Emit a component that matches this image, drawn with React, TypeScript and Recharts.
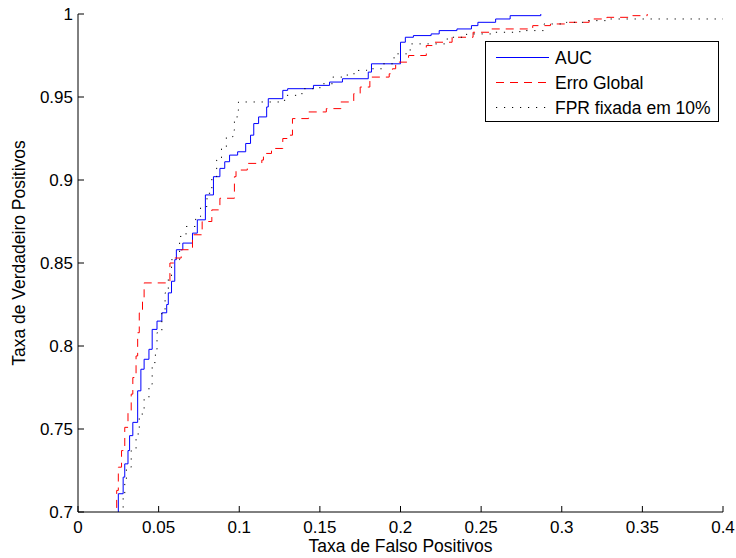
import React from "react";
import {
  LineChart,
  Line,
  XAxis,
  YAxis,
  Legend,
} from "recharts";

const FONT = '"Liberation Sans", Arial, Helvetica, sans-serif';

const xTicks = [0, 0.05, 0.1, 0.15, 0.2, 0.25, 0.3, 0.35, 0.4];
const yTicks = [0.7, 0.75, 0.8, 0.85, 0.9, 0.95, 1];

// AUC
const aucFpr = [
  0.024, 0.025, 0.028, 0.029, 0.031, 0.032, 0.034, 0.037, 0.039, 0.041, 0.044,
  0.046, 0.049, 0.052, 0.055, 0.056, 0.058, 0.06, 0.061, 0.065, 0.071, 0.074,
  0.079, 0.084, 0.088, 0.091, 0.094, 0.099, 0.104, 0.107, 0.109, 0.112, 0.117,
  0.118, 0.127, 0.13, 0.146, 0.156, 0.164, 0.18, 0.182, 0.2, 0.203, 0.208,
  0.219, 0.224, 0.235, 0.244, 0.248, 0.259, 0.268, 0.287,
];
const aucTpr = [
  0.695, 0.711, 0.721, 0.729, 0.737, 0.746, 0.754, 0.773, 0.786, 0.792, 0.798,
  0.81, 0.815, 0.82, 0.825, 0.832, 0.839, 0.852, 0.858, 0.862, 0.868, 0.876,
  0.891, 0.902, 0.907, 0.911, 0.915, 0.917, 0.922, 0.927, 0.934, 0.938, 0.944,
  0.949, 0.954, 0.955, 0.957, 0.959, 0.961, 0.965, 0.97, 0.983, 0.986, 0.987,
  0.988, 0.99, 0.991, 0.993, 0.995, 0.997, 0.999, 1.0,
];

// Erro Global
const erroFpr = [
  0.023, 0.024, 0.025, 0.027, 0.029, 0.031, 0.033, 0.034, 0.036, 0.037, 0.038,
  0.04, 0.041, 0.057, 0.06, 0.064, 0.071, 0.077, 0.083, 0.088, 0.097, 0.098,
  0.105, 0.114, 0.115, 0.12, 0.127, 0.13, 0.133, 0.143, 0.154, 0.163, 0.171,
  0.175, 0.181, 0.193, 0.195, 0.197, 0.205, 0.216, 0.221, 0.232, 0.245, 0.256,
  0.282, 0.293, 0.302, 0.317, 0.328, 0.344, 0.353,
];
const erroTpr = [
  0.695, 0.713, 0.727, 0.737, 0.751, 0.761, 0.771, 0.781, 0.794, 0.808, 0.82,
  0.828, 0.838, 0.85, 0.853, 0.858, 0.867, 0.875, 0.882, 0.889, 0.902, 0.906,
  0.91, 0.912, 0.916, 0.919, 0.925, 0.927, 0.937, 0.941, 0.943, 0.947, 0.952,
  0.956, 0.962, 0.964, 0.967, 0.971, 0.975, 0.981, 0.983, 0.986, 0.989, 0.991,
  0.993, 0.994, 0.995, 0.997, 0.998, 0.999, 1.0,
];

// FPR fixada em 10%
const fixFpr = [
  0.026, 0.028, 0.029, 0.03, 0.033, 0.036, 0.038, 0.041, 0.044, 0.046, 0.048,
  0.049, 0.052, 0.054, 0.056, 0.058, 0.063, 0.067, 0.073, 0.076, 0.08, 0.083,
  0.086, 0.089, 0.092, 0.096, 0.097, 0.099, 0.0995, 0.125, 0.129, 0.136, 0.14,
  0.15, 0.158, 0.167, 0.173, 0.179, 0.189, 0.196, 0.206, 0.229, 0.241, 0.256,
  0.274, 0.289, 0.303, 0.316, 0.328, 0.4,
];
const fixTpr = [
  0.695, 0.709, 0.719, 0.727, 0.737, 0.747, 0.759, 0.769, 0.777, 0.79, 0.798,
  0.808, 0.82, 0.832, 0.842, 0.852, 0.866, 0.872, 0.878, 0.884, 0.892, 0.902,
  0.912, 0.919, 0.926, 0.93, 0.938, 0.942, 0.947, 0.948, 0.951, 0.952, 0.955,
  0.958, 0.962, 0.964, 0.966, 0.967, 0.97, 0.976, 0.982, 0.986, 0.988, 0.989,
  0.99, 0.994, 0.995, 0.996, 0.997, 0.997,
];

const toPoints = (xs: number[], ys: number[]) =>
  xs.map((x, i) => ({ x, y: ys[i] }));

const SERIES = [
  { name: "AUC", data: toPoints(aucFpr, aucTpr), color: "#0000ff", dash: undefined as string | undefined },
  { name: "Erro Global", data: toPoints(erroFpr, erroTpr), color: "#ff0000", dash: "8 6" },
  { name: "FPR fixada em 10%", data: toPoints(fixFpr, fixTpr), color: "#000000", dash: "1.2 6.8" },
];

const tickStyle = { fontSize: 17, fill: "#000", fontFamily: FONT };

function LegendBox() {
  return (
    <svg width={234} height={81} style={{ display: "block" }}>
      <rect x={0.5} y={0.5} width={233} height={80} fill="#fff" stroke="#000" />
      {SERIES.map((s, i) => {
        const cy = 16.5 + i * 25;
        return (
          <g key={s.name}>
            <line x1={11} x2={64} y1={cy} y2={cy} stroke={s.color} strokeDasharray={s.dash} />
            <text x={70} y={cy + 6} fontSize={17.5} fontFamily={FONT} fill="#000">
              {s.name}
            </text>
          </g>
        );
      })}
    </svg>
  );
}

function YTitle(props: any) {
  const vb = props.viewBox || { y: 14, height: 498 };
  const cy = vb.y + vb.height / 2 - 10;
  return (
    <text
      x={25}
      y={cy}
      transform={`rotate(-90, 25, ${cy})`}
      textAnchor="middle"
      fontSize={17.5}
      fontFamily={FONT}
      fill="#000"
    >
      Taxa de Verdadeiro Positivos
    </text>
  );
}

export default function App() {
  return (
    <div style={{ position: "absolute", left: 0, top: 0, background: "#fff" }}>
      <LineChart
        width={736}
        height={558}
        margin={{ top: 14, right: 13, bottom: 0, left: 0 }}
      >
        <XAxis
          dataKey="x"
          type="number"
          domain={[0, 0.4]}
          ticks={xTicks}
          interval={0}
          allowDataOverflow
          height={46}
          stroke="#000"
          tickSize={-6}
          tickMargin={15}
          tick={tickStyle}
          label={{
            value: "Taxa de Falso Positivos",
            position: "insideBottom",
            offset: 6,
            fontSize: 17.5,
            fontFamily: FONT,
            fill: "#000",
          }}
        />
        <XAxis
          xAxisId="top"
          orientation="top"
          type="number"
          domain={[0, 0.4]}
          ticks={xTicks}
          interval={0}
          allowDataOverflow
          height={0}
          stroke="#000"
          tickSize={-6}
          tickFormatter={() => ""}
        />
        <YAxis
          type="number"
          domain={[0.7, 1]}
          ticks={yTicks}
          interval={0}
          allowDataOverflow
          width={78}
          stroke="#000"
          tickSize={-6}
          tickMargin={11}
          tick={tickStyle}
          label={<YTitle />}
        />
        <YAxis
          yAxisId="right"
          orientation="right"
          type="number"
          domain={[0.7, 1]}
          ticks={yTicks}
          interval={0}
          allowDataOverflow
          width={0}
          stroke="#000"
          tickSize={-6}
          tickFormatter={() => ""}
        />
        {SERIES.map((s) => (
          <Line
            key={s.name}
            data={s.data}
            dataKey="y"
            name={s.name}
            type="stepAfter"
            stroke={s.color}
            strokeWidth={1}
            strokeDasharray={s.dash}
            dot={false}
            activeDot={false}
            isAnimationActive={false}
          />
        ))}
        <Legend
          layout="horizontal"
          verticalAlign="middle"
          align="center"
          content={<LegendBox />}
          wrapperStyle={{ left: 485, top: 41, width: 234, height: 81 }}
        />
      </LineChart>
    </div>
  );
}
